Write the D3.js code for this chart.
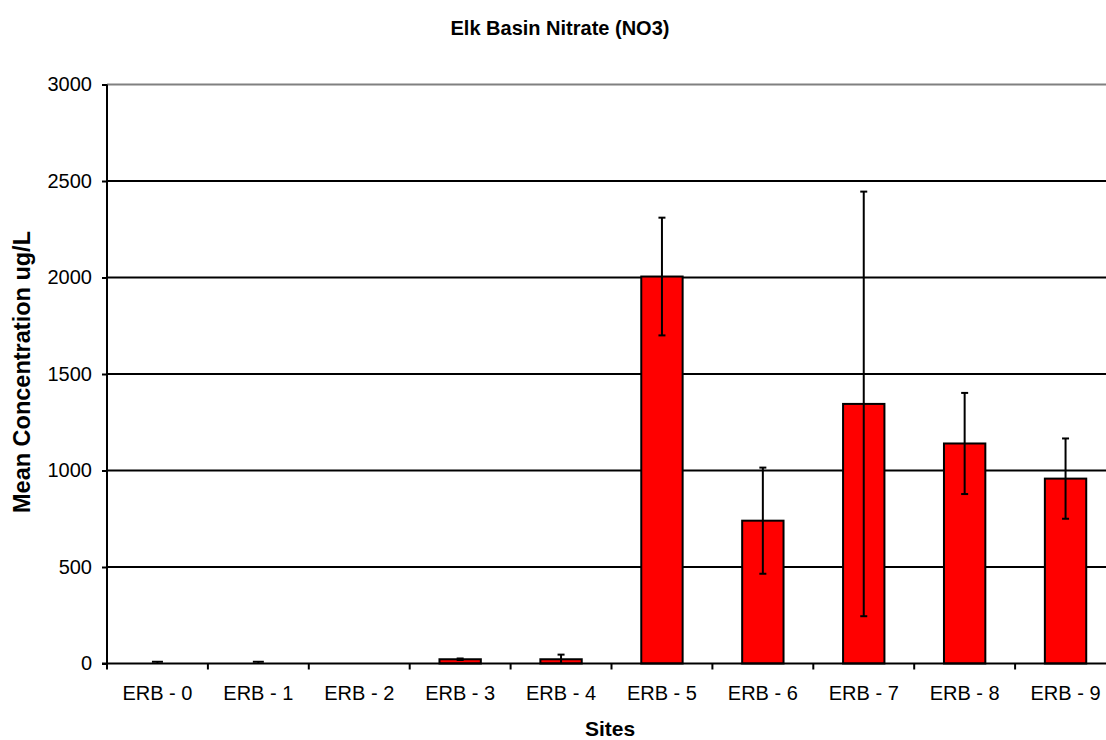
<!DOCTYPE html>
<html>
<head>
<meta charset="utf-8">
<script src="https://cdn.jsdelivr.net/npm/d3@7"></script>
<style>
  html, body { margin: 0; padding: 0; background: #fff; }
  svg { display: block; font-family: "Liberation Sans", Arial, sans-serif; }
</style>
</head>
<body>
<svg id="chart" width="1106" height="740"></svg>
<script>
const categories = ["ERB - 0", "ERB - 1", "ERB - 2", "ERB - 3", "ERB - 4", "ERB - 5", "ERB - 6", "ERB - 7", "ERB - 8", "ERB - 9"];
const meanValues = [0, 0, 0, 22, 22, 2005, 740, 1345, 1140, 958];
const errorValues = [9, 9, 0, 4, 24, 305, 275, 1100, 262, 208];
const yTicks = [0, 500, 1000, 1500, 2000, 2500, 3000];
const chartTitle = "Elk Basin Nitrate (NO3)";
const xTitle = "Sites";
const yTitle = "Mean Concentration ug/L";

(function () {
const svg = d3.select("#chart");
const W = 1106;
const pLeft = 107, pRight = 1116, pTop = 84.5, pBottom = 663.5;

const x = d3.scaleBand().domain(categories).range([pLeft, pRight]).padding(0);
const y = d3.scaleLinear().domain([0, 3000]).range([pBottom, pTop]);
const barW = x.bandwidth() * 0.41;

// gridlines
svg.append("g").selectAll("line").data(yTicks.filter(d => d > 0)).join("line")
  .attr("x1", pLeft).attr("x2", W)
  .attr("y1", d => y(d)).attr("y2", d => y(d))
  .attr("stroke", d => d === 3000 ? "#808080" : "#000")
  .attr("stroke-width", 2);

// bars
const data = categories.map((c, i) => ({ c, v: meanValues[i], e: errorValues[i] }));
svg.append("g").selectAll("rect").data(data.filter(d => y(0) - y(d.v) >= 1)).join("rect")
  .attr("x", d => x(d.c) + (x.bandwidth() - barW) / 2)
  .attr("width", barW)
  .attr("y", d => y(d.v))
  .attr("height", d => y(0) - y(d.v))
  .attr("fill", "#ff0000")
  .attr("stroke", "#000")
  .attr("stroke-width", 2);

// error bars
const eg = svg.append("g").attr("stroke", "#000").attr("stroke-width", 2);
data.filter(d => d.e > 0).forEach(d => {
  const cx = x(d.c) + x.bandwidth() / 2;
  const hi = y(d.v + d.e), lo = y(Math.max(0, d.v - d.e));
  const cw = d.v === 0 ? 5.5 : 3.5;
  eg.append("line").attr("x1", cx).attr("x2", cx).attr("y1", hi).attr("y2", lo);
  eg.append("line").attr("x1", cx - cw).attr("x2", cx + cw).attr("y1", hi).attr("y2", hi);
  if (d.v - d.e > 0) eg.append("line").attr("x1", cx - cw).attr("x2", cx + cw).attr("y1", lo).attr("y2", lo);
});

// y axis
const yAxis = d3.axisLeft(y).tickValues(yTicks).tickSize(5).tickPadding(10).tickFormat(d3.format("d"));
const yg = svg.append("g").attr("transform", `translate(${pLeft},0)`).call(yAxis);
yg.select(".domain").attr("stroke", "#000").attr("stroke-width", 2).attr("d", `M0,${pTop}V${pBottom}`);
yg.selectAll(".tick line").attr("stroke", "#000").attr("stroke-width", 2);
yg.selectAll(".tick text").attr("font-size", 20).attr("fill", "#000").attr("font-family", "Liberation Sans, Arial, sans-serif");

// x axis
const xg = svg.append("g").attr("transform", `translate(0,${pBottom})`);
xg.append("line").attr("x1", pLeft - 5).attr("x2", W).attr("y1", 0).attr("y2", 0).attr("stroke", "#000").attr("stroke-width", 2);
xg.selectAll(".xt").data(categories).join("line").attr("class", "xt")
  .attr("x1", d => x(d)).attr("x2", d => x(d)).attr("y1", 0).attr("y2", 6)
  .attr("stroke", "#000").attr("stroke-width", 2);
xg.selectAll(".xl").data(categories).join("text").attr("class", "xl")
  .attr("x", d => x(d) + x.bandwidth() / 2).attr("y", 36.5)
  .attr("text-anchor", "middle").attr("font-size", 20).attr("fill", "#000")
  .text(d => d);

// titles
svg.append("text").attr("x", 560).attr("y", 35).attr("text-anchor", "middle")
  .attr("font-size", 20).attr("font-weight", "bold").text(chartTitle);
svg.append("text").attr("x", 610).attr("y", 736).attr("text-anchor", "middle")
  .attr("font-size", 21).attr("font-weight", "bold").text(xTitle);
svg.append("text").attr("transform", "translate(29.5,372) rotate(-90)").attr("text-anchor", "middle")
  .attr("font-size", 23.5).attr("font-weight", "bold").text(yTitle);
})();
</script>
</body>
</html>
